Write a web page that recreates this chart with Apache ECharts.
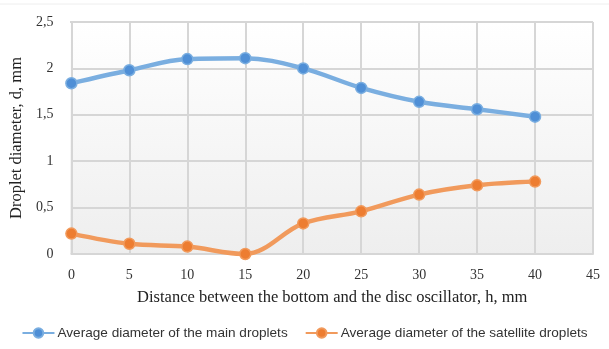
<!DOCTYPE html>
<html><head><meta charset="utf-8">
<script src="https://cdn.jsdelivr.net/npm/echarts@6/dist/echarts.min.js"></script>
<style>html,body{margin:0;padding:0;background:#fff}#c{width:609px;height:349px}</style>
</head><body><div id="c"></div>
<script>
const categories = [0, 5, 10, 15, 20, 25, 30, 35, 40];
const mainDroplets = [1.84, 1.98, 2.10, 2.11, 2.00, 1.79, 1.64, 1.56, 1.48];
const satelliteDroplets = [0.22, 0.11, 0.08, 0.00, 0.33, 0.46, 0.64, 0.74, 0.78];
const seriesNames = ['Average diameter of the main droplets', 'Average diameter of the satellite droplets'];
const xTitle = 'Distance between the bottom and the disc oscillator, h, mm';
const yTitle = 'Droplet diameter, d, mm';

const chart = echarts.init(document.getElementById('c'));
const serif = '"Liberation Serif", "Times New Roman", serif';
const gridColor = '#d6d6d6';
function mk(name, vals, color, light) {
  return {
    name: name, type: 'line', smooth: 0.35, z: 5,
    data: categories.map((c, i) => [c, vals[i]]),
    symbol: 'circle', symbolSize: 11,
    lineStyle: { color: light, width: 4.5 },
    itemStyle: { color: color, borderColor: light, borderWidth: 1.5 },
    emphasis: { disabled: true }
  };
}
chart.setOption({
  animation: false,
  grid: { left: 70, right: 16, top: 22, bottom: 95 },
  xAxis: {
    type: 'value', min: 0, max: 45, interval: 5,
    name: xTitle, nameLocation: 'middle', nameGap: 35,
    nameTextStyle: { fontFamily: serif, fontSize: 16.5, color: '#222' },
    axisLine: { show: true, lineStyle: { color: gridColor, width: 2 } },
    axisTick: { show: false },
    axisLabel: { fontFamily: serif, fontSize: 14, color: '#333', margin: 14 },
    splitLine: { show: true, lineStyle: { color: gridColor, width: 2 } }
  },
  yAxis: {
    type: 'value', min: 0, max: 2.5, interval: 0.5,
    name: yTitle, nameLocation: 'middle', nameGap: 38,
    nameTextStyle: { fontFamily: serif, fontSize: 16.5, color: '#222' },
    axisLine: { show: false }, axisTick: { show: false },
    axisLabel: { fontFamily: serif, fontSize: 14, color: '#333', margin: 18,
      formatter: v => String(v).replace('.', ',') },
    splitLine: { show: true, lineStyle: { color: gridColor, width: 2 } }
  },
  legend: {
    bottom: 4, left: 'center', itemGap: 17, itemWidth: 32, itemHeight: 12,
    textStyle: { fontFamily: '"Liberation Sans", Arial, sans-serif', fontSize: 13.6, color: '#333', padding: [0, 0, 0, -2] },
    data: seriesNames
  },
  graphic: [
    { type: 'rect', z: -10, shape: { x: 70, y: 22, width: 523, height: 232 },
      style: { fill: new echarts.graphic.LinearGradient(0, 0, 0, 1, [
        { offset: 0, color: '#ffffff' }, { offset: 1, color: '#eeeeee' }]) } },
    { type: 'line', shape: { x1: 70, y1: 22, x2: 593, y2: 22 }, style: { stroke: gridColor, lineWidth: 2 } },
    { type: 'line', shape: { x1: 593, y1: 22, x2: 593, y2: 254 }, style: { stroke: gridColor, lineWidth: 2 } },
    { type: 'line', shape: { x1: 0, y1: 4, x2: 609, y2: 4 }, style: { stroke: '#eeeeee', lineWidth: 1 } }
  ],
  series: [
    mk(seriesNames[0], mainDroplets, '#4f8fd6', '#7aaee0'),
    mk(seriesNames[1], satelliteDroplets, '#ed7d31', '#f19a5c')
  ]
});
</script></body></html>
